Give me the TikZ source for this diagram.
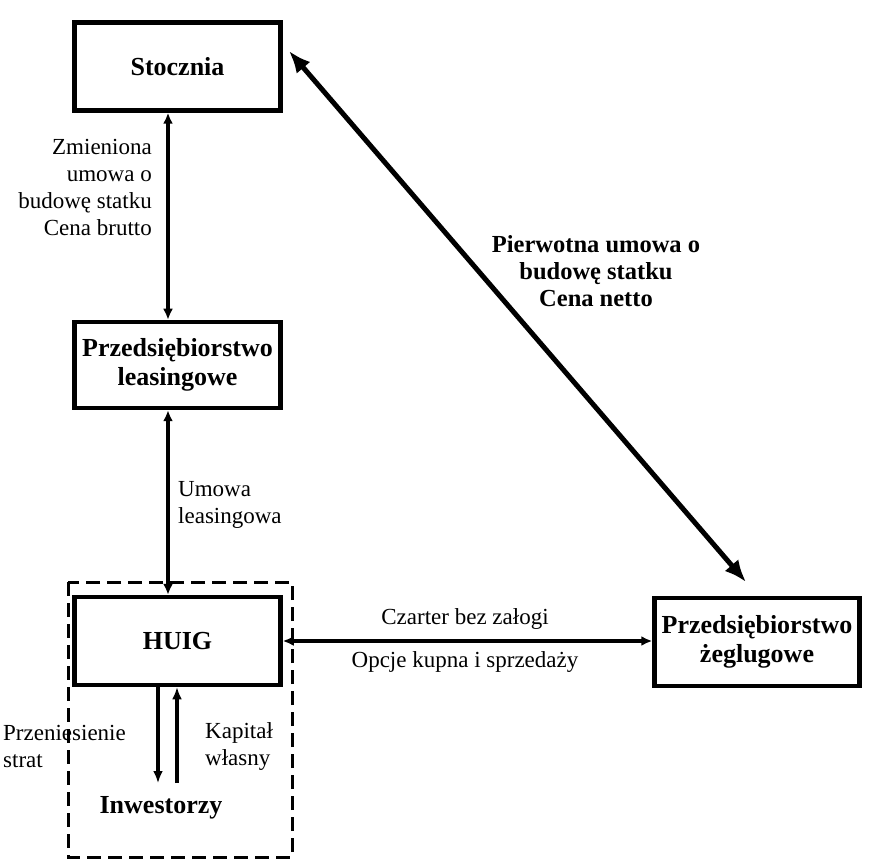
\documentclass[tikz,border=0pt]{standalone}
\usepackage{fontspec}
\setmainfont{Liberation Serif}
\usetikzlibrary{arrows.meta,calc}
\begin{document}
\begin{tikzpicture}[x=1pt,y=-1pt,
  box/.style={draw,line width=4.5pt,rectangle,inner sep=0pt,minimum width=206pt,minimum height=88pt,align=center,font=\fontsize{26}{29}\selectfont\bfseries},
  lbl/.style={inner sep=0pt,font=\fontsize{23}{27}\selectfont},
  blbl/.style={inner sep=0pt,font=\fontsize{24.5}{27}\selectfont\bfseries},
  conn/.style={line width=3.5pt,{Latex[length=11pt,width=10pt]}-{Latex[length=11pt,width=10pt]}},
  thick conn/.style={line width=5pt,{Latex[length=22pt,width=18pt]}-{Latex[length=22pt,width=18pt]}},
  one/.style={line width=4pt,-{Latex[length=12pt,width=10pt]}}]
\useasboundingbox (0,0) rectangle (889,866);
% dashed group
\draw[line width=3pt,dash pattern=on 14pt off 7pt] (68,582) rectangle (292,857);
% boxes
\node[box] (st) at (177.5,66.5) {Stocznia};
\node[box,minimum height=86pt] (le) at (177.5,365) {Przedsiębiorstwo\\leasingowe};
\node[box] (hu) at (177.5,641) {HUIG};
\node[box,minimum width=205pt] (ze) at (757,642) {Przedsiębiorstwo\\żeglugowe};
\node[inner sep=0pt,font=\fontsize{26}{29}\selectfont\bfseries] (inv) at (161,808) {Inwestorzy};
% helper coordinates
\coordinate (vx) at (168,0);
\coordinate (dx) at (158,0);
\coordinate (ux) at (177,0);
\coordinate (bot) at (0,783);
\coordinate (d1) at (289,51);
\coordinate (d2) at (746,582);
% connectors
\draw[conn] (st.south -| vx) -- (le.north -| vx);
\draw[conn] (le.south -| vx) -- (hu.north -| vx);
\draw[conn,line width=4.5pt] (hu.east) -- (ze.west |- hu.east);
\draw[thick conn] (d1) -- (d2);
\draw[one] (hu.south -| dx) -- (bot -| dx);
\draw[one] (bot -| ux) -- (hu.south -| ux);
% labels
\node[lbl,align=right,anchor=east] (l1) at (152,188) {Zmieniona\\umowa o\\budowę statku\\Cena brutto};
\node[lbl,align=left,anchor=west] (l2) at (178,505) {Umowa\\leasingowa};
\node[blbl,align=center] (l3) at (596,271) {Pierwotna umowa o\\budowę statku\\Cena netto};
\node[lbl] (l4) at (465,619) {Czarter bez załogi};
\node[lbl] (l5) at (465,662) {Opcje kupna i sprzedaży};
\node[lbl,align=left,anchor=west] (l6) at (3,746) {Przeniesienie\\strat};
\node[lbl,align=left,anchor=west] (l7) at (205,746) {Kapitał\\własny};
\end{tikzpicture}
\end{document}
